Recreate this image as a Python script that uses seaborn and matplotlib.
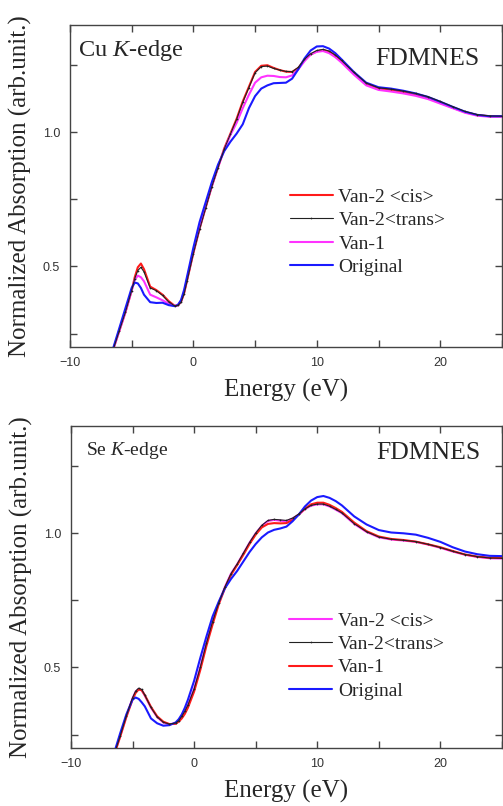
import numpy as np
import pandas as pd
import matplotlib
matplotlib.use("Agg")
import matplotlib.pyplot as plt
import seaborn as sns
from matplotlib.ticker import MultipleLocator

# ---------------- data ----------------
energy = [-7, -6.5, -6, -5.5, -5, -4.75, -4.5, -4.25, -4, -3.5, -3, -2.5, -2, -1.5, -1.25, -1, -0.75, -0.5,
          0, 0.5, 1, 1.5, 2, 2.5, 3, 3.5, 4, 4.5, 5, 5.5, 6, 6.5, 7, 7.5, 8, 8.5, 9, 9.5,
          10, 10.5, 11, 11.5, 12, 13, 14, 15, 16, 17, 18, 19, 20, 21, 22, 23, 24, 25]

# Cu K-edge
cu_van2_cis = [0.12, 0.19, 0.26, 0.33, 0.41, 0.46, 0.497, 0.511, 0.49, 0.425, 0.412, 0.395, 0.371, 0.353, 0.355, 0.368, 0.40, 0.45,
               0.55, 0.64, 0.72, 0.80, 0.87, 0.94, 0.995, 1.05, 1.115, 1.17, 1.225, 1.248, 1.25, 1.24, 1.232, 1.226, 1.225, 1.24, 1.27, 1.29,
               1.302, 1.307, 1.30, 1.285, 1.265, 1.22, 1.18, 1.163, 1.158, 1.15, 1.14, 1.128, 1.11, 1.092, 1.075, 1.064, 1.06, 1.06]
cu_van2_trans = [0.12, 0.19, 0.26, 0.33, 0.41, 0.455, 0.485, 0.497, 0.48, 0.42, 0.41, 0.392, 0.368, 0.353, 0.355, 0.366, 0.398, 0.447,
                 0.548, 0.638, 0.718, 0.798, 0.868, 0.938, 0.993, 1.048, 1.112, 1.167, 1.222, 1.245, 1.247, 1.238, 1.232, 1.227, 1.226, 1.242, 1.272, 1.293,
                 1.305, 1.309, 1.303, 1.288, 1.268, 1.224, 1.184, 1.166, 1.161, 1.154, 1.145, 1.133, 1.115, 1.096, 1.078, 1.066, 1.061, 1.06]
cu_van1 = [0.12, 0.19, 0.26, 0.33, 0.41, 0.45, 0.466, 0.46, 0.445, 0.395, 0.385, 0.374, 0.362, 0.353, 0.356, 0.37, 0.405, 0.455,
           0.555, 0.645, 0.725, 0.80, 0.87, 0.935, 0.99, 1.035, 1.09, 1.14, 1.185, 1.205, 1.211, 1.21, 1.206, 1.205, 1.212, 1.235, 1.265, 1.29,
           1.30, 1.303, 1.295, 1.28, 1.26, 1.215, 1.175, 1.158, 1.152, 1.145, 1.136, 1.124, 1.107, 1.09, 1.073, 1.062, 1.058, 1.058]
cu_original = [0.12, 0.195, 0.27, 0.345, 0.42, 0.44, 0.437, 0.42, 0.395, 0.367, 0.364, 0.365, 0.356, 0.352, 0.357, 0.375, 0.413, 0.465,
               0.57, 0.665, 0.74, 0.815, 0.88, 0.93, 0.965, 0.995, 1.03, 1.09, 1.135, 1.163, 1.175, 1.183, 1.184, 1.185, 1.20, 1.235, 1.275, 1.305,
               1.32, 1.321, 1.312, 1.295, 1.272, 1.225, 1.185, 1.168, 1.163, 1.155, 1.145, 1.132, 1.114, 1.095, 1.077, 1.065, 1.06, 1.06]

# Se K-edge
se_van2_cis = [0.11, 0.175, 0.245, 0.32, 0.385, 0.41, 0.42, 0.415, 0.395, 0.35, 0.315, 0.295, 0.288, 0.292, 0.30, 0.318, 0.336, 0.36,
               0.42, 0.50, 0.59, 0.67, 0.74, 0.80, 0.85, 0.885, 0.925, 0.965, 1.0, 1.028, 1.046, 1.05, 1.047, 1.045, 1.055, 1.07, 1.09, 1.103,
               1.108, 1.108, 1.10, 1.088, 1.075, 1.035, 1.005, 0.985, 0.977, 0.973, 0.968, 0.958, 0.946, 0.932, 0.92, 0.912, 0.907, 0.906]
se_van2_trans = [0.11, 0.175, 0.245, 0.32, 0.387, 0.412, 0.423, 0.418, 0.397, 0.351, 0.316, 0.296, 0.289, 0.293, 0.301, 0.318, 0.337, 0.36,
                 0.42, 0.50, 0.59, 0.67, 0.74, 0.80, 0.85, 0.886, 0.926, 0.966, 1.001, 1.03, 1.048, 1.052, 1.05, 1.048, 1.057, 1.072, 1.091, 1.104,
                 1.109, 1.109, 1.101, 1.089, 1.076, 1.036, 1.006, 0.986, 0.978, 0.974, 0.969, 0.959, 0.947, 0.933, 0.921, 0.913, 0.908, 0.907]
se_van1 = [0.11, 0.172, 0.242, 0.315, 0.38, 0.405, 0.418, 0.415, 0.397, 0.353, 0.318, 0.298, 0.289, 0.29, 0.298, 0.31, 0.327, 0.35,
           0.41, 0.49, 0.58, 0.66, 0.735, 0.795, 0.845, 0.882, 0.92, 0.96, 0.995, 1.022, 1.035, 1.038, 1.037, 1.038, 1.05, 1.07, 1.092, 1.108,
           1.114, 1.114, 1.106, 1.094, 1.08, 1.04, 1.008, 0.988, 0.979, 0.975, 0.969, 0.959, 0.948, 0.934, 0.921, 0.913, 0.909, 0.908]
se_original = [0.11, 0.18, 0.255, 0.325, 0.38, 0.388, 0.383, 0.37, 0.355, 0.31, 0.292, 0.283, 0.285, 0.295, 0.307, 0.325, 0.35, 0.38,
               0.45, 0.535, 0.615, 0.69, 0.745, 0.795, 0.83, 0.86, 0.895, 0.93, 0.96, 0.985, 1.003, 1.013, 1.018, 1.025, 1.045, 1.07, 1.10, 1.122,
               1.135, 1.139, 1.132, 1.12, 1.104, 1.063, 1.033, 1.012, 1.003, 1.0, 0.995, 0.983, 0.968, 0.948, 0.932, 0.922, 0.916, 0.915]

labels_cu = ["Van-2 <cis>", "Van-2<trans>", "Van-1", "Original"]
colors_cu = ["#ff1a1a", "#222222", "#ff33ff", "#1a1aff"]
labels_se = ["Van-2 <cis>", "Van-2<trans>", "Van-1", "Original"]
colors_se = ["#ff33ff", "#222222", "#ff1a1a", "#1a1aff"]

# ---------------- style ----------------
sns.set_style("ticks")
plt.rcParams['font.family'] = ['Liberation Serif', 'DejaVu Serif']
plt.rcParams['mathtext.fontset'] = 'custom'
plt.rcParams['mathtext.rm'] = 'Liberation Serif'
plt.rcParams['mathtext.it'] = 'Liberation Serif:italic'

fig = plt.figure(figsize=(5.03, 8.06), dpi=100)
ax1 = fig.add_axes([0.139, 0.5695, 0.859, 0.3995])
ax2 = fig.add_axes([0.141, 0.072, 0.857, 0.3995])

def draw(ax, series, labels, colors, edge_text, edge_size, leg_anchor):
    for vals, lab, col in zip(series, labels, colors):
        df = pd.DataFrame({"E": energy, "A": vals})
        if "trans" in lab:
            sns.lineplot(data=df, x="E", y="A", ax=ax, color=col, lw=0.8, label=lab,
                         marker='.', markersize=2.5, markeredgewidth=0, zorder=4)
        else:
            sns.lineplot(data=df, x="E", y="A", ax=ax, color=col, lw=1.5, label=lab, zorder=3)
    ax.set_xlim(-10, 25)
    ax.set_ylim(0.2, 1.4)
    ax.xaxis.set_major_locator(MultipleLocator(10))
    ax.xaxis.set_minor_locator(MultipleLocator(5))
    ax.yaxis.set_major_locator(MultipleLocator(0.5))
    ax.yaxis.set_minor_locator(MultipleLocator(0.25))
    ax.tick_params(which='both', direction='in', top=True, right=True, color='#444444')
    ax.tick_params(which='major', length=5, width=1)
    ax.tick_params(which='minor', length=5, width=1)
    for lbl in ax.get_xticklabels() + ax.get_yticklabels():
        lbl.set_family(['Liberation Sans', 'DejaVu Sans'])
        lbl.set_fontsize(9)
        lbl.set_color('#333333')
    ax.tick_params(axis='x', pad=7)
    ax.tick_params(axis='y', pad=7)
    for s in ax.spines.values():
        s.set_color('#444444')
        s.set_linewidth(1.0)
    ax.set_xlabel("Energy (eV)", fontsize=18, labelpad=7)
    ax.set_ylabel("Normalized Absorption (arb.unit.)", fontsize=18, labelpad=8)
    ax.text(edge_text[0], edge_text[1], edge_text[2], transform=ax.transAxes,
            fontsize=edge_size, ha='left', va='center')
    ax.text(edge_text[3], edge_text[4], "FDMNES", transform=ax.transAxes,
            fontsize=18.5, ha='right', va='center')
    ax.legend(loc='center left', bbox_to_anchor=leg_anchor, frameon=False, fontsize=14,
              handlelength=2.2, handletextpad=0.3, labelspacing=0.3,
              borderpad=0, borderaxespad=0)

draw(ax1, [cu_van2_cis, cu_van2_trans, cu_van1, cu_original], labels_cu, colors_cu,
     (0.019, 0.922, r"Cu $\mathit{K}$-edge", 0.949, 0.894), 17.5, (0.509, 0.357))
draw(ax2, [se_van2_cis, se_van2_trans, se_van1, se_original], labels_se, colors_se,
     (0.036, 0.925, r"Se $\mathit{K}$-edge", 0.951, 0.916), 14, (0.507, 0.286))

fig.savefig("out.png", dpi=100)
